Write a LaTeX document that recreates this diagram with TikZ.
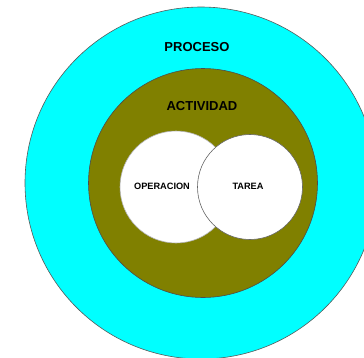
\documentclass[tikz,border=0pt]{standalone}
\usepackage{fontspec}
\setmainfont{Liberation Sans}
\definecolor{oliva}{RGB}{128,128,0}
\definecolor{celeste}{RGB}{0,255,255}
\begin{document}
\begin{tikzpicture}[x=1pt,y=-1pt,
  ring/.style={circle,inner sep=0pt,line width=0.6pt},
  big/.style={font=\bfseries\fontsize{13}{15}\selectfont},
  small/.style={font=\bfseries\fontsize{9.2}{11}\selectfont}]
\useasboundingbox (0,0) rectangle (364,357);
\clip (0,0) rectangle (364,357);
\node[ring,draw=gray!70!black,fill=celeste,minimum size=352pt] (proceso) at (201,183) {};
\node[ring,draw=black!70,fill=oliva,minimum size=229pt] (actividad) at (203,183) {};
\node[ring,draw=gray!60,fill=white,minimum size=112pt] (operacion) at (176,187) {};
\node[ring,draw=black!60,fill=white,minimum size=105pt] (tarea) at (250,187) {};
\node[big] (tproceso) at (197,47) {PROCESO};
\node[big] (tactividad) at (202,106) {ACTIVIDAD};
\node[small] (toperacion) at (162,186) {OPERACION};
\node[small] (ttarea) at (248,186) {TAREA};
\end{tikzpicture}
\end{document}
